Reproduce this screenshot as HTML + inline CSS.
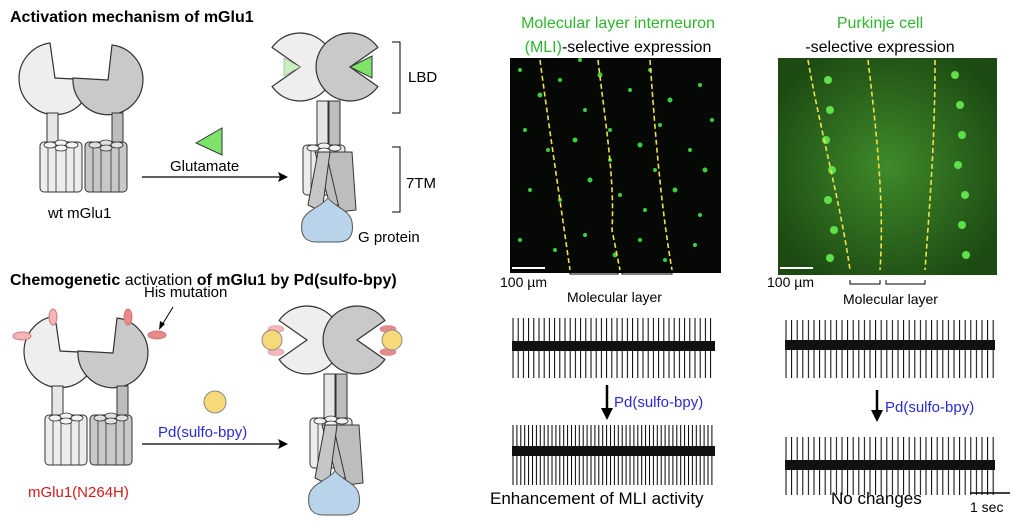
<!DOCTYPE html>
<html><head><meta charset="utf-8"><style>
body{margin:0;background:#fff;}
svg{display:block;font-family:"Liberation Sans",Arial,sans-serif;}
</style></head><body>
<svg width="1024" height="527" viewBox="0 0 1024 527" xmlns="http://www.w3.org/2000/svg">
<defs>
<g id="tmL">
 <rect x="0" y="0" width="42" height="50" rx="4" fill="#ececec" stroke="#333" stroke-width="1"/>
 <line x1="8" y1="4" x2="8" y2="50" stroke="#333" stroke-width="0.8"/>
 <line x1="16" y1="4" x2="16" y2="50" stroke="#333" stroke-width="0.8"/>
 <line x1="26" y1="4" x2="26" y2="50" stroke="#333" stroke-width="0.8"/>
 <line x1="34" y1="4" x2="34" y2="50" stroke="#333" stroke-width="0.8"/>
 <ellipse cx="10" cy="3" rx="6" ry="3" fill="#f4f4f4" stroke="#333" stroke-width="0.8"/>
 <ellipse cx="21" cy="1" rx="6" ry="3" fill="#f4f4f4" stroke="#333" stroke-width="0.8"/>
 <ellipse cx="32" cy="3" rx="6" ry="3" fill="#f4f4f4" stroke="#333" stroke-width="0.8"/>
 <ellipse cx="21" cy="6" rx="6" ry="3" fill="#f4f4f4" stroke="#333" stroke-width="0.8"/>
</g>
<g id="tmD">
 <rect x="0" y="0" width="42" height="50" rx="4" fill="#c8c8c8" stroke="#333" stroke-width="1"/>
 <line x1="8" y1="4" x2="8" y2="50" stroke="#333" stroke-width="0.8"/>
 <line x1="16" y1="4" x2="16" y2="50" stroke="#333" stroke-width="0.8"/>
 <line x1="26" y1="4" x2="26" y2="50" stroke="#333" stroke-width="0.8"/>
 <line x1="34" y1="4" x2="34" y2="50" stroke="#333" stroke-width="0.8"/>
 <ellipse cx="10" cy="3" rx="6" ry="3" fill="#e0e0e0" stroke="#333" stroke-width="0.8"/>
 <ellipse cx="21" cy="1" rx="6" ry="3" fill="#e0e0e0" stroke="#333" stroke-width="0.8"/>
 <ellipse cx="32" cy="3" rx="6" ry="3" fill="#e0e0e0" stroke="#333" stroke-width="0.8"/>
 <ellipse cx="21" cy="6" rx="6" ry="3" fill="#e0e0e0" stroke="#333" stroke-width="0.8"/>
</g>
<g id="inactive">
 <path d="M55,78 L50,43 A36,36 0 1 0 91,80 Z" fill="#eeeeee" stroke="#333" stroke-width="1.2"/>
 <path d="M108,80 L73,78 A35,35 0 1 0 112,45 Z" fill="#c9c9c9" stroke="#333" stroke-width="1.2"/>
 <rect x="47" y="113" width="11" height="30" fill="#e6e6e6" stroke="#333"/>
 <rect x="112" y="113" width="11" height="30" fill="#bdbdbd" stroke="#333"/>
 <use href="#tmL" x="40" y="142"/>
 <use href="#tmD" x="85" y="142"/>
</g>
<g id="active">
 <path d="M300,67 L272.1,47.5 A34,34 0 1 1 272.1,86.5 Z" fill="#eeeeee" stroke="#333" stroke-width="1.2"/>
 <path d="M350,67 L377.9,47.5 A34,34 0 1 0 377.9,86.5 Z" fill="#c9c9c9" stroke="#333" stroke-width="1.2"/>
 <rect x="317" y="101" width="11" height="45" fill="#e6e6e6" stroke="#333"/>
 <rect x="329" y="101" width="11" height="45" fill="#bdbdbd" stroke="#333"/>
 <use href="#tmL" x="303" y="145"/>
 <path d="M315,152 L340,152 L343,205 L330,205 Z" fill="#bdbdbd" stroke="#333"/>
 <path d="M326,152 L352,152 L356,210 L340,212 Z" fill="#bdbdbd" stroke="#333"/>
 <path d="M318,152 L330,152 L322,212 L308,205 Z" fill="#c6c6c6" stroke="#333"/>
</g>
<g id="gprot">
 <path d="M328,198 C320,208 305,210 302,222 C300,236 306,242 316,242 L338,242 C350,242 354,234 352,222 C350,210 336,208 328,198 Z" fill="#b8d3ea" stroke="#555"/>
</g>
<pattern id="sp1" x="512" y="0" width="5.2" height="527" patternUnits="userSpaceOnUse"><line x1="1" y1="0" x2="1" y2="527" stroke="#000" stroke-width="1"/></pattern>
<pattern id="sp2" x="512" y="0" width="3.9" height="527" patternUnits="userSpaceOnUse"><line x1="1" y1="0" x2="1" y2="527" stroke="#000" stroke-width="1"/></pattern>
<pattern id="sp3" x="785" y="0" width="5.6" height="527" patternUnits="userSpaceOnUse"><line x1="1" y1="0" x2="1" y2="527" stroke="#000" stroke-width="1"/></pattern>
<radialGradient id="pk" cx="50%" cy="50%" r="60%"><stop offset="0" stop-color="#3f8a2a"/><stop offset="1" stop-color="#1c4a12"/></radialGradient>
</defs>

<text x="10" y="22" font-size="16" font-weight="bold">Activation mechanism of mGlu1</text>
<use href="#inactive"/>
<text x="48" y="218" font-size="15">wt mGlu1</text>
<polygon points="196,143 222,128 222,155" fill="#7ee36a" stroke="#333"/>
<text x="170" y="171" font-size="15">Glutamate</text>
<line x1="142" y1="177" x2="282" y2="177" stroke="#000" stroke-width="1.2"/>
<polygon points="288,177 278,172 280,177 278,182" fill="#000"/>
<use href="#active"/>
<polygon points="300,67 284,58 284,76" fill="#c9f0bb" stroke="#999" stroke-width="0.6"/>
<polygon points="350,67 372,56 372,78" fill="#7ee36a" stroke="#333"/>
<use href="#gprot"/>
<text x="358" y="242" font-size="15">G protein</text>
<path d="M392,42 L400,42 L400,113 L392,113" fill="none" stroke="#000"/>
<text x="408" y="82" font-size="15">LBD</text>
<path d="M392,147 L400,147 L400,212 L392,212" fill="none" stroke="#000"/>
<text x="406" y="188" font-size="15">7TM</text>

<text x="10" y="285" font-size="16" font-weight="bold">Chemogenetic <tspan font-weight="normal">activation</tspan> of mGlu1 by Pd(sulfo-bpy)</text>
<text x="144" y="297" font-size="15">His mutation</text>
<line x1="173" y1="307" x2="162" y2="325" stroke="#000"/>
<polygon points="159,330 160,321 165,324" fill="#000"/>
<g transform="translate(5,273)"><use href="#inactive"/></g>
<ellipse cx="53" cy="317" rx="4" ry="8" fill="#f4b6b8" stroke="#c77"/>
<ellipse cx="22" cy="336" rx="9" ry="4" fill="#f4b6b8" stroke="#c77"/>
<ellipse cx="128" cy="317" rx="4" ry="8" fill="#e88a8c" stroke="#c77"/>
<ellipse cx="157" cy="335" rx="9" ry="4" fill="#e88a8c" stroke="#c77"/>
<text x="28" y="497" font-size="15" fill="#d21c1c">mGlu1(N264H)</text>
<circle cx="215" cy="402" r="11" fill="#f7d97a" stroke="#888"/>
<text x="158" y="437" font-size="15" fill="#2a2ad0">Pd(sulfo-bpy)</text>
<line x1="142" y1="444" x2="282" y2="444" stroke="#000" stroke-width="1.2"/>
<polygon points="288,444 278,439 280,444 278,449" fill="#000"/>
<g transform="translate(7,273)"><use href="#active"/><use href="#gprot"/></g>
<ellipse cx="276" cy="329" rx="8" ry="3.5" fill="#f4b6b8" stroke="#c99" stroke-width="0.6"/><ellipse cx="276" cy="352" rx="8" ry="3.5" fill="#f4b6b8" stroke="#c99" stroke-width="0.6"/>
<circle cx="272" cy="340" r="10" fill="#f7d97a" stroke="#888"/>
<ellipse cx="388" cy="329" rx="8" ry="3.5" fill="#e88a8c" stroke="#c77" stroke-width="0.6"/><ellipse cx="388" cy="352" rx="8" ry="3.5" fill="#e88a8c" stroke="#c77" stroke-width="0.6"/>
<circle cx="392" cy="340" r="10" fill="#f7d97a" stroke="#888"/>

<!-- MLI image -->
<text x="618" y="28" font-size="16" fill="#2fb52f" text-anchor="middle">Molecular layer interneuron</text>
<text x="618" y="52" font-size="16" text-anchor="middle"><tspan fill="#2fb52f">(MLI)</tspan>-selective expression</text>
<rect x="510" y="58" width="211" height="215" fill="#050805"/>
<g fill="#3ccf3c">
<circle cx="520" cy="70" r="2"/><circle cx="540" cy="95" r="2.5"/><circle cx="560" cy="80" r="2"/><circle cx="585" cy="110" r="2"/><circle cx="600" cy="75" r="2.5"/><circle cx="630" cy="90" r="2"/><circle cx="650" cy="70" r="2"/><circle cx="670" cy="100" r="2.5"/><circle cx="700" cy="85" r="2"/><circle cx="712" cy="120" r="2"/>
<circle cx="525" cy="130" r="2"/><circle cx="548" cy="150" r="2"/><circle cx="575" cy="140" r="2.5"/><circle cx="610" cy="130" r="2"/><circle cx="640" cy="145" r="2.5"/><circle cx="660" cy="125" r="2"/><circle cx="690" cy="150" r="2"/><circle cx="705" cy="170" r="2.5"/>
<circle cx="530" cy="190" r="2"/><circle cx="560" cy="200" r="2"/><circle cx="590" cy="180" r="2.5"/><circle cx="620" cy="195" r="2"/><circle cx="645" cy="210" r="2"/><circle cx="675" cy="190" r="2.5"/><circle cx="700" cy="215" r="2"/>
<circle cx="520" cy="240" r="2"/><circle cx="555" cy="250" r="2"/><circle cx="585" cy="235" r="2"/><circle cx="615" cy="255" r="2.5"/><circle cx="640" cy="240" r="2"/><circle cx="665" cy="260" r="2"/><circle cx="695" cy="245" r="2"/><circle cx="610" cy="160" r="2"/><circle cx="580" cy="60" r="2"/><circle cx="655" cy="170" r="2"/>
</g>
<g fill="none" stroke="#f1e04a" stroke-width="1.6" stroke-dasharray="5,3">
<path d="M540,60 C548,120 560,200 570,270"/>
<path d="M598,60 C605,120 615,180 612,230 L620,270"/>
<path d="M650,60 C655,130 660,200 672,270"/>
</g>
<line x1="512" y1="268" x2="545" y2="268" stroke="#fff" stroke-width="2"/>
<text x="500" y="287" font-size="14">100 µm</text>
<path d="M570,270 L570,274 L618,274 L618,270 M622,270 L622,274 L672,274 L672,270" fill="none" stroke="#000"/>
<text x="567" y="302" font-size="14">Molecular layer</text>

<!-- Purkinje image -->
<text x="880" y="28" font-size="16" fill="#2fb52f" text-anchor="middle">Purkinje cell</text>
<text x="880" y="52" font-size="16" text-anchor="middle">-selective expression</text>
<rect x="778" y="58" width="219" height="217" fill="url(#pk)"/>
<g fill="#5fe04a">
<circle cx="828" cy="80" r="4"/><circle cx="830" cy="110" r="4"/><circle cx="826" cy="140" r="4"/><circle cx="832" cy="170" r="4"/><circle cx="828" cy="200" r="4"/><circle cx="834" cy="230" r="4"/><circle cx="830" cy="258" r="4"/>
<circle cx="955" cy="75" r="4"/><circle cx="960" cy="105" r="4"/><circle cx="962" cy="135" r="4"/><circle cx="958" cy="165" r="4"/><circle cx="965" cy="195" r="4"/><circle cx="962" cy="225" r="4"/><circle cx="966" cy="255" r="4"/>
</g>
<g fill="none" stroke="#f1e04a" stroke-width="1.6" stroke-dasharray="5,3">
<path d="M808,60 C820,130 840,200 850,270"/>
<path d="M868,60 C875,120 885,200 880,270"/>
<path d="M935,60 C935,140 930,200 925,270"/>
</g>
<line x1="780" y1="268" x2="813" y2="268" stroke="#fff" stroke-width="2"/>
<text x="767" y="287" font-size="14">100 µm</text>
<path d="M850,280 L850,284 L880,284 L880,280 M886,280 L886,284 L925,284 L925,280" fill="none" stroke="#000"/>
<text x="843" y="304" font-size="14">Molecular layer</text>

<!-- traces -->
<rect x="512" y="318" width="203" height="60" fill="url(#sp1)"/>
<rect x="512" y="341" width="203" height="10" fill="#111"/>
<rect x="512" y="425" width="203" height="60" fill="url(#sp2)"/>
<rect x="512" y="446" width="203" height="10" fill="#111"/>
<rect x="785" y="320" width="210" height="58" fill="url(#sp3)"/>
<rect x="785" y="340" width="210" height="10" fill="#111"/>
<rect x="785" y="437" width="210" height="58" fill="url(#sp3)"/>
<rect x="785" y="460" width="210" height="10" fill="#111"/>

<line x1="607" y1="385" x2="607" y2="410" stroke="#000" stroke-width="2.5"/>
<polygon points="601,408 613,408 607,420" fill="#000"/>
<text x="614" y="407" font-size="15" fill="#2a2ad0">Pd(sulfo-bpy)</text>
<line x1="877" y1="390" x2="877" y2="412" stroke="#000" stroke-width="2.5"/>
<polygon points="871,410 883,410 877,422" fill="#000"/>
<text x="885" y="412" font-size="15" fill="#2a2ad0">Pd(sulfo-bpy)</text>

<text x="490" y="504" font-size="17">Enhancement of MLI activity</text>
<text x="831" y="504" font-size="17">No changes</text>
<line x1="970" y1="493" x2="1010" y2="493" stroke="#000" stroke-width="1.5"/>
<text x="970" y="512" font-size="14">1 sec</text>
</svg>
</body></html>
